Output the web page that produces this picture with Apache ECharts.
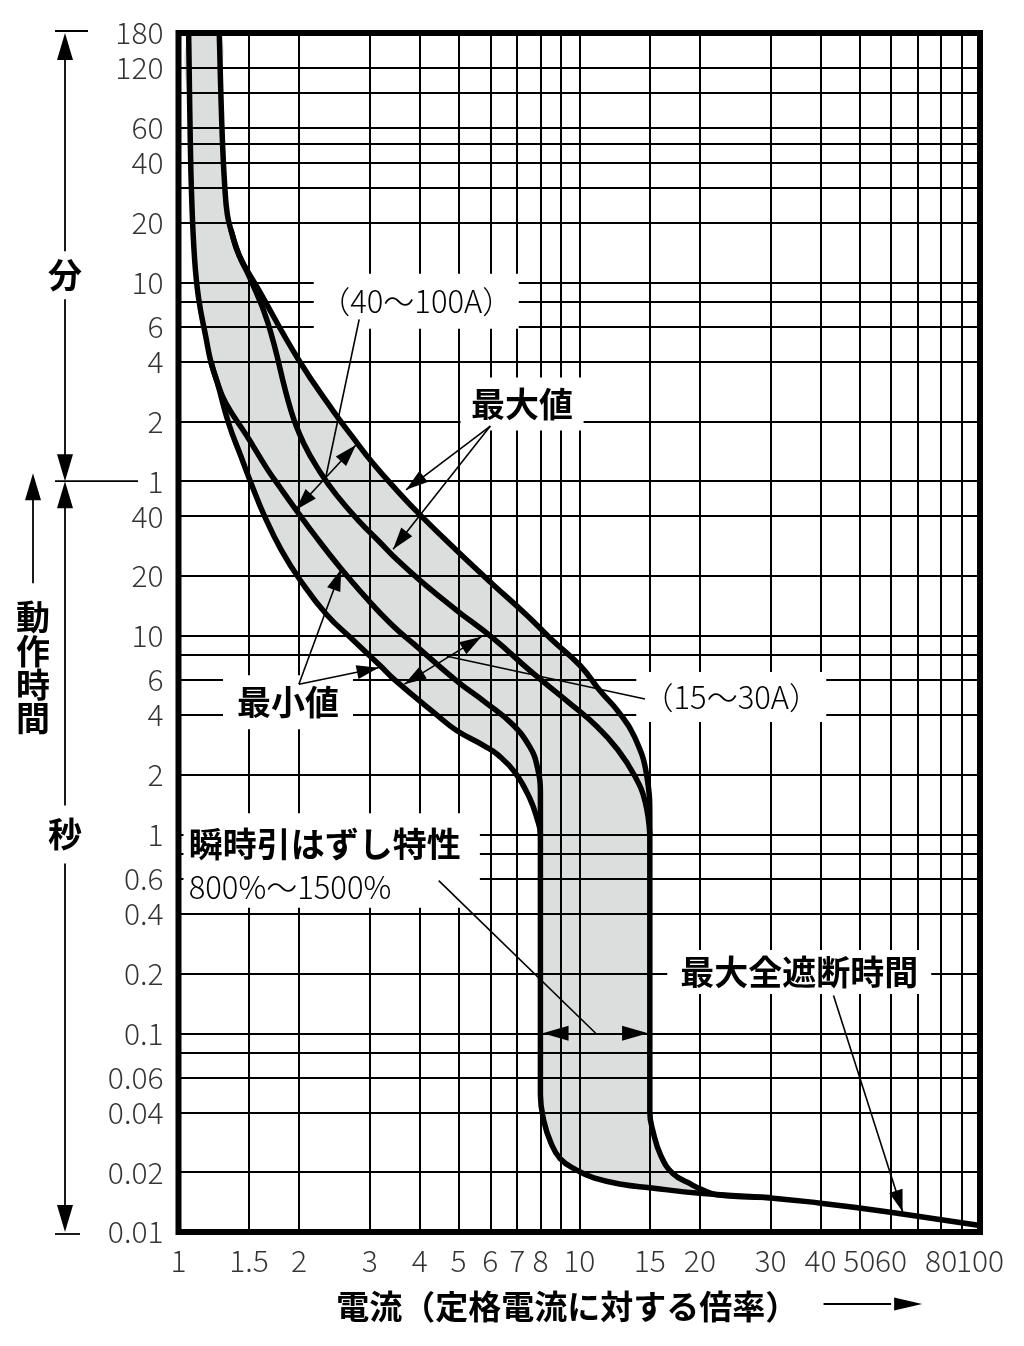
<!DOCTYPE html>
<html>
<head>
<meta charset="utf-8">
<script src="https://cdn.jsdelivr.net/npm/echarts@6/dist/echarts.min.js"></script>
<style>
html, body { margin: 0; padding: 0; background: #fff; }
#chart { width: 1024px; height: 1346px; }
</style>
</head>
<body>
<div id="chart"></div>
<script>
var FONT = '"Noto Sans CJK JP", "Noto Sans", sans-serif';

// 電流（定格電流に対する倍率）
var xGridLines = [1.5, 2, 3, 4, 5, 6, 7, 8, 9, 10, 15, 20, 30, 40, 50, 60, 70, 80, 90];
var xTickValues = [1, 1.5, 2, 3, 4, 5, 6, 7, 8, 10, 15, 20, 30, 40, 50, 60, 80, 100];

// 動作時間, in seconds (the upper part is minutes)
var yGridLines = [0.02, 0.04, 0.06, 0.08, 0.1, 0.2, 0.4, 0.6, 0.8, 1, 2, 4, 6, 8, 10, 20, 40,
    60, 120, 240, 360, 480, 600, 1200, 1800, 2400, 3000, 3600, 5400, 7200];
var yTickValues = [10800, 7200, 3600, 2400, 1200, 600, 360, 240, 120, 60,
    40, 20, 10, 6, 4, 2, 1, 0.6, 0.4, 0.2, 0.1, 0.06, 0.04, 0.02, 0.01];
var yTickTexts = ['180', '120', '60', '40', '20', '10', '6', '4', '2', '1',
    '40', '20', '10', '6', '4', '2', '1', '0.6', '0.4', '0.2', '0.1', '0.06', '0.04', '0.02', '0.01'];

// curves: [current multiple, seconds]
var minCurve = [
    [1.06, 10800], [1.069, 3500], [1.078, 1660], [1.097, 784], [1.123, 496], [1.173, 311], [1.204, 240], [1.25, 188],
    [1.336, 116], [1.432, 79.9], [1.524, 57.3], [1.635, 40.5], [1.807, 26.9], [2.011, 19.1], [2.341, 12.8], [2.726, 9.53],
    [3.188, 7.07], [3.464, 6], [4.409, 4], [4.943, 3.34], [5.82, 2.78], [6.28, 2.51], [6.92, 2.05], [7.507, 1.54],
    [7.849, 1.2], [8, 1], [8, 0.049], [8.17, 0.0358], [8.48, 0.0284], [8.96, 0.0234], [9.84, 0.0205], [10.88, 0.0187],
    [12.73, 0.0174], [15, 0.0167], [20, 0.01565], [30, 0.01484], [40, 0.01397], [50, 0.0132], [70, 0.012], [100, 0.01078]
];
var innerLeft = [
    [1.204, 240], [1.25, 188], [1.313, 147.7], [1.479, 101.8], [1.664, 69.2], [1.798, 55.3], [1.979, 42.2], [2.213, 31.1],
    [2.524, 22.2], [2.933, 15.6], [3.401, 11.4], [3.87, 9.08], [4.952, 5.92], [5.82, 4.64], [6.79, 3.61], [7.52, 2.77],
    [7.85, 2.21], [8, 1.6], [8, 1]
];
var maxCurve = [
    [1.264, 10800], [1.275, 5530], [1.288, 3000], [1.305, 1800], [1.324, 1316], [1.352, 1102], [1.416, 823],
    [1.585, 551], [1.997, 243.5], [2.431, 135.6], [2.721, 99.9], [3.045, 74.5], [3.528, 53.2], [4.007, 40.6],
    [4.952, 26.8], [6.06, 18.3], [7.365, 12.8], [8.557, 9.53], [10.06, 7.07], [11.31, 5.24], [12.5, 4.17],
    [13.73, 3.11], [14.74, 1.975], [15, 1.2], [15, 1], [15, 0.04], [15.29, 0.0319], [15.97, 0.0243],
    [17.12, 0.0197], [19, 0.0174], [20.42, 0.0162], [22, 0.0154], [30, 0.0149]
];
var innerRight = [
    [1.352, 1102], [1.416, 823], [1.503, 640], [1.671, 376], [1.909, 135.6], [2.054, 92.9], [2.255, 66.8],
    [2.477, 51.2], [2.824, 37.7], [3.158, 30], [3.528, 23.9], [4.093, 18.3], [4.952, 13.4], [6.06, 9.81],
    [7.69, 6.45], [9.39, 4.64], [11.1, 3.48], [12.48, 2.67], [13.76, 1.97], [14.59, 1.473], [15, 1]
];

var SMOOTH = 0.45;
var fillPolygon = minCurve.filter(function (p) { return p[0] <= 20; })
    .concat(maxCurve.filter(function (p) { return p[0] <= 22; }).reverse());

var chart = echarts.init(document.getElementById('chart'));

function curve(name, data) {
    return {
        name: name, type: 'line', data: data, z: 3, silent: true,
        symbol: 'none', showSymbol: false, smooth: SMOOTH,
        lineStyle: { color: '#000', width: 5.5 }
    };
}

var hiddenAxis = {
    axisLine: { show: false }, axisTick: { show: false },
    axisLabel: { show: false }, splitLine: { show: false }
};

var option = {
    animation: false,
    backgroundColor: '#fff',
    grid: { left: 178.5, right: 44, top: 33, bottom: 114 },
    xAxis: echarts.util.extend({ type: 'log', logBase: 10, min: 1, max: 100 }, hiddenAxis),
    yAxis: echarts.util.extend({ type: 'log', logBase: 10, min: 0.01, max: 10800 }, hiddenAxis),
    series: [
        {
            type: 'custom', z: 1, silent: true, clip: true,
            data: [fillPolygon[0]],
            renderItem: function (params, api) {
                var pts = fillPolygon.map(function (p) { return api.coord(p); });
                return {
                    type: 'polygon',
                    shape: { points: pts, smooth: SMOOTH },
                    style: { fill: '#dcdedd', stroke: null }
                };
            }
        },
        {
            type: 'line', data: [], silent: true, symbol: 'none',
            markLine: {
                silent: true, symbol: 'none', z: 5,
                label: { show: false },
                lineStyle: { color: '#000', width: 2, type: 'solid' },
                data: xGridLines.map(function (v) { return { xAxis: v }; })
                    .concat(yGridLines.map(function (v) { return { yAxis: v }; }))
            }
        },
        curve('min', minCurve),
        curve('innerLeft', innerLeft),
        curve('innerRight', innerRight),
        curve('max', maxCurve),
        {
            type: 'scatter', silent: true, clip: false, symbolSize: 0, z: 40,
            data: xTickValues.map(function (v) { return { name: String(v), value: [v, 0.01] }; }),
            label: {
                show: true, position: 'bottom', distance: 14, formatter: '{b}',
                fontFamily: FONT, fontSize: 30, fontWeight: 300, color: '#000'
            }
        },
        {
            type: 'scatter', silent: true, clip: false, symbolSize: 0, z: 40,
            data: yTickValues.map(function (v, i) { return { name: yTickTexts[i], value: [1, v] }; }),
            label: {
                show: true, position: 'left', distance: 15, formatter: '{b}',
                fontFamily: FONT, fontSize: 30, fontWeight: 300, color: '#000'
            }
        }
    ]
};
chart.setOption(option);

// annotations
function P(x, y) { return chart.convertToPixel({ gridIndex: 0 }, [x, y]); }
var gfx = [];
function seg(a, b, w) {
    gfx.push({ type: 'line', z: 30, silent: true,
        shape: { x1: a[0], y1: a[1], x2: b[0], y2: b[1] },
        style: { stroke: '#000', lineWidth: w || 1.6 } });
}
function head(tip, from, len, half) {
    var dx = tip[0] - from[0], dy = tip[1] - from[1];
    var d = Math.sqrt(dx * dx + dy * dy), ux = dx / d, uy = dy / d;
    var bx = tip[0] - ux * len, by = tip[1] - uy * len;
    gfx.push({ type: 'polygon', z: 31, silent: true,
        shape: { points: [tip, [bx - uy * half, by + ux * half], [bx + uy * half, by - ux * half]] },
        style: { fill: '#000' } });
}
function arrow(from, tip) { seg(from, tip); head(tip, from, 22, 7); }
function dbl(a, b) { seg(a, b); head(a, b, 22, 7); head(b, a, 22, 7); }
function box(c, w, h) {
    gfx.push({ type: 'rect', z: 20, silent: true,
        shape: { x: c[0] - w / 2, y: c[1] - h / 2, width: w, height: h },
        style: { fill: '#fff' } });
}
function text(p, str, font, align) {
    gfx.push({ type: 'text', z: 25, silent: true, x: p[0], y: p[1],
        style: { text: str, font: font, fill: '#000', align: align || 'center', verticalAlign: 'middle' } });
}
var BOLD = 'bold 34px ' + FONT;
var REG = '300 31px ' + FONT;

// (40〜100A)
var c40 = P(3.92, 482.6);
box(c40, 205, 55);
text(c40, '（40〜100A）', REG);
seg(P(2.824, 391.5), P(2.319, 59.8));
dbl(P(1.961, 43.0), P(2.772, 91.2));

// 最大値
var cMax = P(7.2, 146.7);
box(cMax, 123, 53);
text(cMax, '最大値', BOLD);
arrow(P(6.0, 113.6), P(3.696, 54.3));
arrow(P(6.0, 113.6), P(3.432, 27.3));

// 最小値
var cMin = P(1.876, 4.63);
box(cMin, 130, 54);
text(cMin, '最小値', BOLD);
arrow(P(1.997, 5.71), P(2.548, 21.7));
arrow(P(1.997, 5.71), P(3.158, 6.91));

// (15〜30A)
var c15 = P(23.95, 4.92);
box(c15, 190, 50);
text(c15, '（15〜30A）', REG);
seg(P(14.59, 4.81), P(4.676, 7.9));
dbl(P(3.661, 5.71), P(5.7, 9.9));

// 瞬時引はずし特性
var iTL = P(1.029, 1.281), iBR = P(5.65, 0.4288);
gfx.push({ type: 'rect', z: 20, silent: true,
    shape: { x: iTL[0], y: iTL[1], width: iBR[0] - iTL[0], height: iBR[1] - iTL[1] },
    style: { fill: '#fff' } });
text(P(1.06, 0.899), '瞬時引はずし特性', BOLD, 'left');
text(P(1.06, 0.541), '800%〜1500%', REG, 'left');
seg(P(4.46, 0.586), P(10.99, 0.1));
var tL = P(8.1, 0.1), tR = P(14.85, 0.1);
head(tL, [tL[0] + 10, tL[1]], 26, 7.5);
head(tR, [tR[0] - 10, tR[1]], 26, 7.5);

// 最大全遮断時間
var cBrk = P(35.4, 0.2035);
box(cBrk, 264, 44);
text(cBrk, '最大全遮断時間', BOLD);
arrow(P(43.1, 0.155), P(64.1, 0.01264));

// frame
var gTop = P(1, 10800), gBot = P(100, 0.01);
gfx.push({ type: 'rect', z: 50, silent: true,
    shape: { x: gTop[0], y: gTop[1], width: gBot[0] - gTop[0], height: gBot[1] - gTop[1] },
    style: { fill: null, stroke: '#000', lineWidth: 6 } });

// time axis side marks
var ax = 65, yT = gTop[1], yB = gBot[1];
var y60 = P(1, 60)[1], yFun = P(1, 653)[1], ySec = P(1, 1)[1];
seg([55, yT - 2], [88, yT - 2], 1.8);
head([ax, yT], [ax, yT + 10], 27, 8);
seg([ax, yT + 20], [ax, yFun - 24], 1.8);
text([ax, yFun], '分', BOLD);
seg([ax, yFun + 24], [ax, y60 - 20], 1.8);
head([ax, y60], [ax, y60 - 10], 27, 8);
seg([55, y60], [138, y60], 1.8);
head([ax, y60], [ax, y60 + 10], 27, 8);
seg([ax, y60 + 20], [ax, ySec - 29], 1.8);
text([ax, ySec], '秒', BOLD);
seg([ax, ySec + 29], [ax, yB - 20], 1.8);
head([ax, yB], [ax, yB - 10], 27, 8);
seg([55, yB + 2], [80, yB + 2], 1.8);
['動', '作', '時', '間'].forEach(function (ch, i) {
    text([33, y60 + 136 + i * 33.7], ch, BOLD);
});
seg([33, y60 + 102], [33, y60 + 10], 1.8);
head([33, y60 - 8], [33, y60 + 10], 27, 8);

// x axis title
var xn = P(2.477, 0.01);
text([xn[0], yB + 74], '電流（定格電流に対する倍率）', 'bold 33px ' + FONT, 'left');
seg([P(40.7, 0.01)[0], yB + 72], [P(60, 0.01)[0], yB + 72], 1.8);
head([P(71.7, 0.01)[0], yB + 72], [P(60, 0.01)[0], yB + 72], 28, 6.5);

chart.setOption({ graphic: gfx });
</script>
</body>
</html>
